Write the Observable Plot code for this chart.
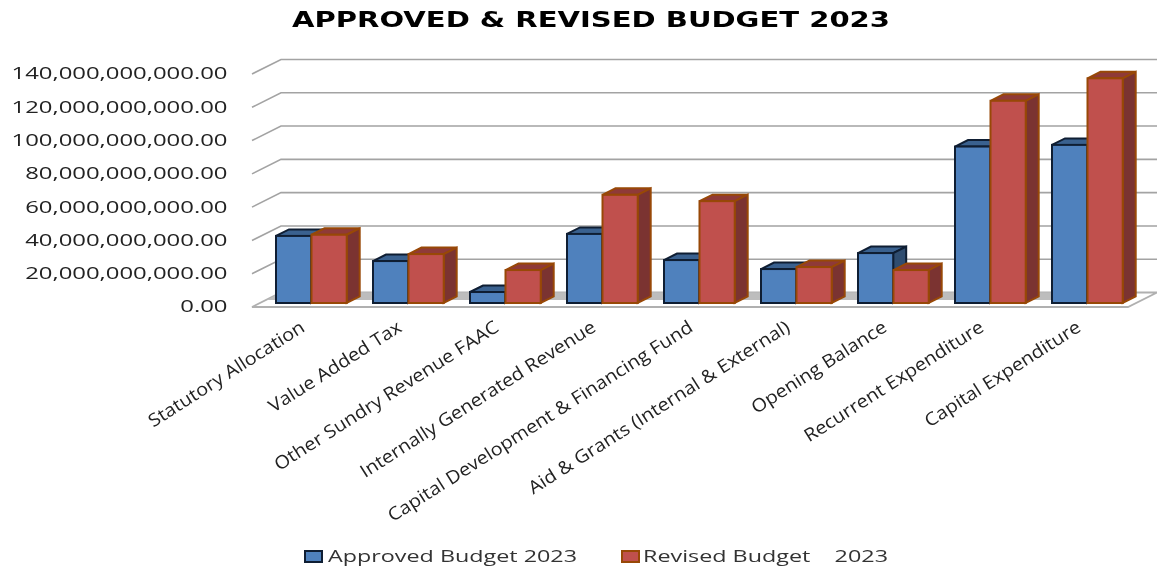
<!DOCTYPE html>
<html>
<head>
<meta charset="utf-8">
<script src="https://cdn.jsdelivr.net/npm/d3@7"></script>
<script src="https://cdn.jsdelivr.net/npm/@observablehq/plot@0.6"></script>
<style>
  html, body { margin: 0; padding: 0; background: #fff; }
  #page { position: relative; width: 1157px; height: 568px; overflow: hidden; filter: blur(0.4px); }
  #page svg { position: absolute; left: 0; top: 0; }
  h1 { position: absolute; margin: 0; left: 292px; top: 7px; font: bold 22px "DejaVu Sans"; color: #000; white-space: pre; transform-origin: left center; }
  .lg { position: absolute; top: 546px; font: 16.5px "Open Sans"; color: #333; white-space: pre; transform-origin: left center; line-height: 20px; }
  .sw { position: absolute; top: 550px; width: 15px; height: 9px; border: 2px solid; }
</style>
</head>
<body>
<div id="page">
  <h1 id="title">APPROVED &amp; REVISED BUDGET 2023</h1>
  <div class="sw" style="left:304px;background:#4F81BD;border-color:#0f1e33"></div>
  <div class="lg" id="lg1" style="left:328px">Approved Budget 2023</div>
  <div class="sw" style="left:621px;background:#C0504D;border-color:#984807"></div>
  <div class="lg" id="lg2" style="left:643px">Revised Budget    2023</div>
</div>
<script>
const categories = ["Statutory Allocation", "Value Added Tax", "Other Sundry Revenue FAAC", "Internally Generated Revenue", "Capital Development & Financing Fund", "Aid & Grants (Internal & External)", "Opening Balance", "Recurrent Expenditure", "Capital Expenditure"];
const approved = [40.3e9, 25.2e9, 6.6e9, 41.5e9, 25.8e9, 20.4e9, 30e9, 94e9, 95e9];
const revised = [41e9, 29.4e9, 19.8e9, 65e9, 61.2e9, 21.6e9, 19.8e9, 121.5e9, 135e9];
const yTicks = [0, 20e9, 40e9, 60e9, 80e9, 100e9, 120e9, 140e9];

const wall = {dx: 29, dy: -14.5};
const bar = {dx: 13, dy: -6.5};
const svgNS = "http://www.w3.org/2000/svg";

function poly(parent, pts, attrs, before) {
  const p = document.createElementNS(svgNS, "polygon");
  p.setAttribute("points", pts.map(d => d.join(",")).join(" "));
  for (const k in attrs) p.setAttribute(k, attrs[k]);
  parent.insertBefore(p, before || null);
  return p;
}

// Wall gridline with its diagonal return on the side wall, from the y scale.
function wallLine(index, scales, values, dims) {
  const g = document.createElementNS(svgNS, "g");
  const l = dims.marginLeft, r = dims.width - dims.marginRight;
  for (const i of index) {
    const y = scales.y(yTicks[i]);
    const pl = document.createElementNS(svgNS, "polyline");
    pl.setAttribute("points", `${l},${y} ${l + wall.dx},${y + wall.dy} ${r + wall.dx},${y + wall.dy}`);
    pl.setAttribute("fill", "none");
    pl.setAttribute("stroke", "#a3a3a3");
    pl.setAttribute("stroke-width", "1.6");
    g.appendChild(pl);
  }
  return g;
}

// Floor slab, anchored on the zero of the y scale.
function floor(index, scales, values, dims) {
  const g = document.createElementNS(svgNS, "g");
  const l = dims.marginLeft, r = dims.width - dims.marginRight, y = scales.y(0);
  poly(g, [[l, y], [r, y], [r + wall.dx, y + wall.dy], [l + wall.dx, y + wall.dy]],
       {fill: "#fff", stroke: "#b0b0b0", "stroke-width": 1.8});
  poly(g, [[l + wall.dx * .5, y - 7], [r - 6, y - 7], [r - 6, y + wall.dy], [l + wall.dx, y + wall.dy]],
       {fill: "#bdbdbd"});
  return g;
}

// Adds the top and side faces of each bar the library has just placed.
function extrude(topFill, sideFill) {
  return (index, scales, values, dims, context, next) => {
    const g = next(index, scales, values, dims, context);
    for (const rect of [...g.querySelectorAll("rect")]) {
      const x = +rect.getAttribute("x"), y = +rect.getAttribute("y");
      const w = +rect.getAttribute("width"), h = +rect.getAttribute("height");
      const x2 = x + w, y2 = y + h;
      poly(g, [[x, y], [x2, y], [x2 + bar.dx, y + bar.dy], [x + bar.dx, y + bar.dy]], {fill: topFill}, rect);
      poly(g, [[x2, y], [x2 + bar.dx, y + bar.dy], [x2 + bar.dx, y2 + bar.dy], [x2, y2]], {fill: sideFill}, rect);
    }
    return g;
  };
}

const chart = Plot.plot({
  width: 1157,
  height: 568,
  marginLeft: 252,
  marginRight: 29,
  marginTop: 74,
  marginBottom: 261,
  style: {background: "transparent", overflow: "visible"},
  x: {domain: categories, padding: 0, label: null},
  y: {domain: [0, 140e9], label: null},
  marks: [
    Plot.ruleY(yTicks.slice(1), {y: d => d, render: (I, s, v, d) => wallLine(I.map(i => i + 1), s, v, d)}),
    Plot.ruleY([0], {y: d => d, render: floor}),
    Plot.axisY({ticks: yTicks, tickFormat: d3.format(",.2f"), tickSize: 0, tickPadding: 25, label: null,
      fontSize: 15.5, fontFamily: "Open Sans", fill: "#222", className: "ty"}),
    Plot.axisX({tickSize: 0, tickPadding: 18, tickRotate: -32.5, label: null,
      fontSize: 18, fontFamily: "Open Sans", fill: "#222", className: "tx"}),
    Plot.barY(categories, {x: d => d, y: (d, i) => approved[i], dx: 8, dy: -4,
      insetLeft: 14, insetRight: 47.8, fill: "#4F81BD", stroke: "#0f1e33", strokeWidth: 2,
      render: extrude("#3a618f", "#2f4d70")}),
    Plot.barY(categories, {x: d => d, y: (d, i) => revised[i], dx: 8, dy: -4,
      insetLeft: 49.5, insetRight: 12.3, fill: "#C0504D", stroke: "#984807", strokeWidth: 2,
      render: extrude("#8f3a38", "#7b3331")})
  ]
});
document.getElementById("page").prepend(chart);

function stretch(nodes, k) {
  nodes.forEach(t => {
    t.setAttribute("lengthAdjust", "spacingAndGlyphs");
    t.setAttribute("textLength", t.getComputedTextLength() * k);
  });
}
const yLabels = [...chart.querySelectorAll("[class*=ty] text")];
stretch(yLabels, 216 / d3.max(yLabels, t => t.getComputedTextLength()));
stretch(chart.querySelectorAll("[class*=tx] text"), 1.1);

function fit(id, target) {
  const el = document.getElementById(id);
  el.style.transform = `scaleX(${target / el.getBoundingClientRect().width})`;
}
fit("title", 598);
fit("lg1", 249);
fit("lg2", 245);
</script>
</body>
</html>
